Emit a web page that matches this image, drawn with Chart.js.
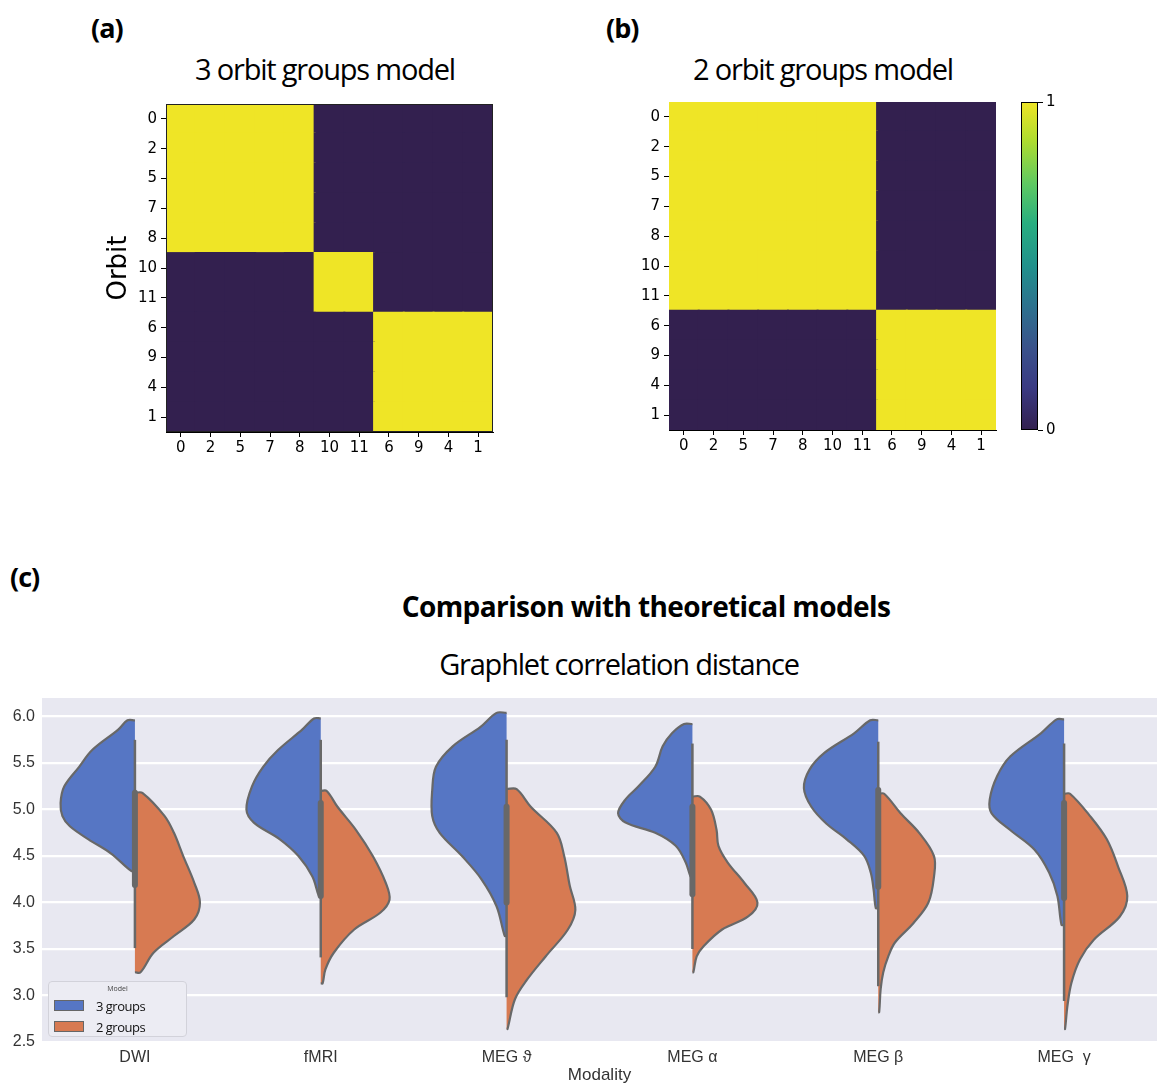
<!DOCTYPE html>
<html>
<head>
<meta charset="utf-8">
<script src="https://cdn.jsdelivr.net/npm/chart.js@4.4.1/dist/chart.umd.min.js"></script>
<style>
  body { margin: 0; width: 1157px; height: 1086px; position: relative; overflow: hidden; background: #fff; font-family: "Open Sans", sans-serif; }
  canvas { position: absolute; }
  .lbl { position: absolute; font-weight: 700; font-size: 27px; line-height: 27px; letter-spacing: -1px; color: #000; }
  .ttl { position: absolute; font-size: 29px; line-height: 29px; letter-spacing: -1.2px; white-space: nowrap; transform: translateX(-50%); color: #000; }
  .ttl.bold { font-weight: 700; font-size: 28px; line-height: 28px; letter-spacing: -0.6px; }
  #legend { position: absolute; left: 48px; top: 981px; width: 139px; height: 56px; box-sizing: border-box;
            background: #ececf3; border: 1.5px solid #d2d2da; border-radius: 4px; }
  #legend .head { font-size: 7px; color: #444; text-align: center; margin-top: 2px; height: 11px; }
  #legend .item { display: flex; align-items: center; height: 21px; font-size: 13px; letter-spacing: -0.5px; color: #111; }
  #legend .sw { width: 28px; height: 9px; border: 1.5px solid #666; margin: 0 12px 0 5px; }
</style>
</head>
<body>
<div class="lbl" style="left:91px;top:14px">(a)</div>
<div class="lbl" style="left:606px;top:14px">(b)</div>
<div class="lbl" style="left:10px;top:563px">(c)</div>
<div class="ttl" style="left:325px;top:54px">3 orbit groups model</div>
<div class="ttl" style="left:823px;top:54px">2 orbit groups model</div>
<div class="ttl bold" style="left:646px;top:592px">Comparison with theoretical models</div>
<div class="ttl" style="left:619px;top:649px">Graphlet correlation distance</div>

<canvas id="heatA" width="410" height="385" style="left:95px;top:92px"></canvas>
<canvas id="heatB" width="410" height="385" style="left:598px;top:90px"></canvas>
<canvas id="cbar" width="70" height="385" style="left:1010px;top:90px"></canvas>
<canvas id="violin" width="1157" height="396" style="left:0;top:690px"></canvas>
<div id="legend"></div>

<script>
// orbit order used on both axes of the model matrices
const orbits = ['0', '2', '5', '7', '8', '10', '11', '6', '9', '4', '1'];

// 3 orbit groups model (rows/cols follow `orbits`)
const model3 = [
  [1, 1, 1, 1, 1, 0, 0, 0, 0, 0, 0],
  [1, 1, 1, 1, 1, 0, 0, 0, 0, 0, 0],
  [1, 1, 1, 1, 1, 0, 0, 0, 0, 0, 0],
  [1, 1, 1, 1, 1, 0, 0, 0, 0, 0, 0],
  [1, 1, 1, 1, 1, 0, 0, 0, 0, 0, 0],
  [0, 0, 0, 0, 0, 1, 1, 0, 0, 0, 0],
  [0, 0, 0, 0, 0, 1, 1, 0, 0, 0, 0],
  [0, 0, 0, 0, 0, 0, 0, 1, 1, 1, 1],
  [0, 0, 0, 0, 0, 0, 0, 1, 1, 1, 1],
  [0, 0, 0, 0, 0, 0, 0, 1, 1, 1, 1],
  [0, 0, 0, 0, 0, 0, 0, 1, 1, 1, 1],
];

// 2 orbit groups model
const model2 = [
  [1, 1, 1, 1, 1, 1, 1, 0, 0, 0, 0],
  [1, 1, 1, 1, 1, 1, 1, 0, 0, 0, 0],
  [1, 1, 1, 1, 1, 1, 1, 0, 0, 0, 0],
  [1, 1, 1, 1, 1, 1, 1, 0, 0, 0, 0],
  [1, 1, 1, 1, 1, 1, 1, 0, 0, 0, 0],
  [1, 1, 1, 1, 1, 1, 1, 0, 0, 0, 0],
  [1, 1, 1, 1, 1, 1, 1, 0, 0, 0, 0],
  [0, 0, 0, 0, 0, 0, 0, 1, 1, 1, 1],
  [0, 0, 0, 0, 0, 0, 0, 1, 1, 1, 1],
  [0, 0, 0, 0, 0, 0, 0, 1, 1, 1, 1],
  [0, 0, 0, 0, 0, 0, 0, 1, 1, 1, 1],
];
const colorbarTicks = [0, 1];

// violin panel
const modalities = ['DWI', 'fMRI', 'MEG ϑ', 'MEG α', 'MEG β', 'MEG  γ'];
const seriesNames = ['3 groups', '2 groups'];
const distTicks = [2.5, 3.0, 3.5, 4.0, 4.5, 5.0, 5.5, 6.0];

// density outline of each half: distance values (top -> bottom) and half widths (share of a category)
const dist3 = [
  [5.96, 5.86, 5.64, 5.46, 5.25, 5.07, 4.93, 4.82, 4.68, 4.53, 4.34],
  [5.98, 5.86, 5.64, 5.46, 5.25, 5.00, 4.86, 4.68, 4.50, 4.28, 4.07],
  [6.04, 5.89, 5.68, 5.46, 5.21, 4.93, 4.75, 4.50, 4.25, 3.96, 3.64],
  [5.92, 5.82, 5.68, 5.46, 5.25, 5.11, 4.96, 4.86, 4.75, 4.61, 4.43, 4.28],
  [5.96, 5.82, 5.61, 5.43, 5.23, 5.03, 4.85, 4.68, 4.50, 4.32, 4.14, 3.94],
  [5.97, 5.82, 5.57, 5.36, 5.11, 4.96, 4.78, 4.57, 4.32, 4.07, 3.76],
];
const width3 = [
  [0.04, 0.09, 0.23, 0.30, 0.38, 0.40, 0.39, 0.35, 0.25, 0.13, 0.02],
  [0.036, 0.10, 0.23, 0.31, 0.37, 0.40, 0.36, 0.22, 0.12, 0.045, 0.01],
  [0.054, 0.14, 0.29, 0.38, 0.40, 0.40, 0.36, 0.24, 0.135, 0.054, 0.01],
  [0.045, 0.11, 0.16, 0.20, 0.29, 0.36, 0.40, 0.36, 0.20, 0.09, 0.036, 0.01],
  [0.043, 0.13, 0.29, 0.37, 0.40, 0.36, 0.28, 0.17, 0.075, 0.04, 0.025, 0.013],
  [0.04, 0.125, 0.29, 0.36, 0.40, 0.39, 0.29, 0.16, 0.08, 0.036, 0.014],
];
const dist2 = [
  [5.18, 4.93, 4.75, 4.50, 4.21, 4.00, 3.82, 3.64, 3.46, 3.25],
  [5.20, 5.03, 4.78, 4.50, 4.21, 4.03, 3.89, 3.71, 3.46, 3.28, 3.13],
  [5.22, 5.03, 4.75, 4.50, 4.18, 3.92, 3.71, 3.42, 3.17, 2.96, 2.64],
  [5.14, 5.00, 4.78, 4.61, 4.43, 4.21, 4.00, 3.85, 3.71, 3.53, 3.42, 3.25],
  [5.17, 4.96, 4.75, 4.50, 4.28, 4.00, 3.78, 3.57, 3.42, 3.25, 3.07, 2.82],
  [5.17, 4.93, 4.68, 4.39, 4.07, 3.85, 3.60, 3.39, 3.14, 2.89, 2.64],
];
const width2 = [
  [0.04, 0.16, 0.21, 0.26, 0.32, 0.35, 0.32, 0.21, 0.10, 0.03],
  [0.032, 0.09, 0.19, 0.28, 0.35, 0.37, 0.32, 0.18, 0.07, 0.025, 0.01],
  [0.054, 0.13, 0.27, 0.31, 0.34, 0.37, 0.33, 0.21, 0.11, 0.045, 0.005],
  [0.04, 0.10, 0.13, 0.14, 0.19, 0.28, 0.35, 0.30, 0.16, 0.06, 0.023, 0.005],
  [0.032, 0.12, 0.22, 0.30, 0.30, 0.27, 0.19, 0.09, 0.054, 0.027, 0.013, 0.005],
  [0.032, 0.14, 0.23, 0.29, 0.34, 0.30, 0.16, 0.086, 0.04, 0.018, 0.005],
];
// inner box (quartiles) and whiskers
const quart1 = [4.19, 4.07, 4.00, 4.09, 4.17, 4.05];
const quart3 = [5.18, 5.07, 5.03, 5.03, 5.21, 5.07];
const whiskLow = [3.51, 3.41, 2.98, 3.50, 3.10, 2.94];
const whiskHigh = [5.75, 5.75, 5.75, 5.71, 5.73, 5.71];

const HIGH = '#efe526';
const LOW = '#33204f';
const BLUE = '#5676c4';
const ORANGE = '#d77a52';
const EDGE = '#686868';

const tickFont = { family: 'DejaVu Sans', size: 15 };

const framePlugin = {
  id: 'frame',
  afterDraw(chart, args, opts) {
    if (!opts.color) return;
    const { ctx, chartArea: a } = chart;
    ctx.save();
    ctx.strokeStyle = opts.color;
    ctx.lineWidth = 1;
    ctx.strokeRect(a.left + 0.5, a.top + 0.5, a.width - 1, a.height - 1);
    ctx.restore();
  }
};

function heatmap(id, matrix, frameColor, showTitle) {
  const n = matrix.length;
  // one stacked dataset per row, bottom row first
  const datasets = matrix.slice().reverse().map((row, k) => ({
    label: orbits[n - 1 - k],
    data: row.map(() => 1),
    backgroundColor: row.map(v => (v ? HIGH : LOW)),
    borderWidth: 0,
    inflateAmount: 1,
    barPercentage: 1,
    categoryPercentage: 1,
  }));
  new Chart(document.getElementById(id), {
    type: 'bar',
    data: { labels: orbits, datasets },
    plugins: [framePlugin],
    options: {
      responsive: false,
      animation: false,
      layout: { padding: { top: 12, right: 12, left: 0, bottom: 0 } },
      plugins: { legend: { display: false }, tooltip: { enabled: false }, frame: { color: frameColor } },
      scales: {
        x: {
          stacked: true,
          grid: { offset: false, drawOnChartArea: false, tickLength: 5, color: '#000' },
          border: { color: '#000' },
          ticks: { font: tickFont, color: '#000', padding: 2, maxRotation: 0, autoSkip: false },
          afterFit(s) { s.height = 45; },
        },
        y: {
          stacked: true,
          min: 0,
          max: n,
          afterBuildTicks(s) { s.ticks = orbits.map((_, k) => ({ value: k + 0.5 })); },
          grid: { drawOnChartArea: false, tickLength: 5, color: '#000' },
          border: { color: '#000' },
          ticks: { font: tickFont, color: '#000', padding: 4, autoSkip: false, callback: (v, i) => orbits[n - 1 - i] },
          title: { display: showTitle, text: 'Orbit', color: '#000', font: { family: 'DejaVu Sans', size: 26 }, padding: { top: 9, bottom: 0 } },
          afterFit(s) { s.width = 71; s.paddingTop = 0; s.paddingBottom = 0; },
        },
      },
    },
  });
}

heatmap('heatA', model3, '#222', true);
heatmap('heatB', model2, null, false);

// colour bar of panel (b)
function viridis(chart) {
  const a = chart.chartArea;
  if (!a) return LOW;
  const g = chart.ctx.createLinearGradient(0, a.bottom, 0, a.top);
  [[0, '#33204f'], [0.13, '#3a3a83'], [0.25, '#3a528b'], [0.38, '#2c728e'], [0.5, '#21918c'],
   [0.63, '#28ae80'], [0.75, '#5ec962'], [0.88, '#addc30'], [1, HIGH]].forEach(([o, c]) => g.addColorStop(o, c));
  return g;
}
new Chart(document.getElementById('cbar'), {
  type: 'bar',
  data: { labels: [''], datasets: [{ data: [colorbarTicks[1]], backgroundColor: c => viridis(c.chart), borderWidth: 0, barPercentage: 1, categoryPercentage: 1 }] },
  plugins: [framePlugin],
  options: {
    responsive: false,
    animation: false,
    layout: { padding: { left: 11, top: 12, bottom: 45, right: 0 } },
    plugins: { legend: { display: false }, tooltip: { enabled: false }, frame: { color: '#000' } },
    scales: {
      x: { display: false },
      y: {
        position: 'right',
        min: colorbarTicks[0],
        max: colorbarTicks[1],
        afterBuildTicks(s) { s.ticks = colorbarTicks.map(v => ({ value: v })); },
        grid: { drawOnChartArea: false, tickLength: 5, color: '#000' },
        border: { display: false },
        ticks: { font: tickFont, color: '#000', padding: 3 },
        afterFit(s) { s.width = 42; s.paddingTop = 0; s.paddingBottom = 0; },
      },
    },
  },
});

// violin panel
function halfOutline(i, ys, ws, side) {
  const pts = [{ x: i, y: ys[0] }];
  ys.forEach((y, k) => pts.push({ x: i + side * ws[k], y }));
  pts.push({ x: i, y: ys[ys.length - 1] });
  return pts;
}

const violinSets = [];
modalities.forEach((m, i) => {
  [[dist3, width3, -1, BLUE, seriesNames[0]], [dist2, width2, 1, ORANGE, seriesNames[1]]].forEach(([d, w, side, col, name]) => {
    violinSets.push({
      label: name,
      data: halfOutline(i, d[i], w[i], side),
      showLine: true,
      fill: 'shape',
      backgroundColor: col,
      borderColor: EDGE,
      borderWidth: 2.2,
      tension: 0.35,
      pointRadius: 0,
      order: 2,
    });
  });
  violinSets.push({
    label: 'whisker',
    data: [{ x: i, y: whiskLow[i] }, { x: i, y: whiskHigh[i] }],
    showLine: true, borderColor: EDGE, borderWidth: 2.5, pointRadius: 0, order: 1,
  });
  violinSets.push({
    label: 'box',
    data: [{ x: i, y: quart1[i] }, { x: i, y: quart3[i] }],
    showLine: true, borderColor: EDGE, borderWidth: 6, borderCapStyle: 'round', pointRadius: 0, order: 0,
  });
});

const bgPlugin = {
  id: 'bg',
  beforeDraw(chart) {
    const { ctx, chartArea: a } = chart;
    ctx.save();
    ctx.fillStyle = '#e8e8f1';
    ctx.fillRect(a.left, a.top, a.width, a.height);
    ctx.restore();
  }
};

new Chart(document.getElementById('violin'), {
  type: 'scatter',
  data: { datasets: violinSets },
  plugins: [bgPlugin],
  options: {
    responsive: false,
    animation: false,
    layout: { padding: { top: 8, right: 0, left: 0, bottom: 0 } },
    plugins: { legend: { display: false }, tooltip: { enabled: false } },
    scales: {
      x: {
        type: 'linear',
        min: -0.5,
        max: modalities.length - 0.5,
        afterBuildTicks(s) { s.ticks = modalities.map((_, k) => ({ value: k })); },
        grid: { display: false, drawTicks: false },
        border: { display: false },
        ticks: { font: { family: 'Liberation Sans', size: 16 }, color: '#333', padding: 6, callback: (v, i) => modalities[i] },
        title: { display: true, text: 'Modality', color: '#333', font: { family: 'Liberation Sans', size: 17 }, padding: { top: 0, bottom: 0 } },
        afterFit(s) { s.height = 44; s.paddingLeft = 0; s.paddingRight = 0; },
      },
      y: {
        min: distTicks[0],
        max: 6.2,
        afterBuildTicks(s) { s.ticks = distTicks.map(v => ({ value: v })); },
        ticks: { font: { family: 'Liberation Sans', size: 16 }, color: '#333', padding: 7, callback: v => v.toFixed(1) },
        grid: { color: '#ffffff', lineWidth: 2.2, drawTicks: false },
        border: { display: false },
        afterFit(s) { s.width = 42; s.paddingTop = 0; s.paddingBottom = 0; },
      },
    },
  },
});

// legend inside the plot
const legend = document.getElementById('legend');
legend.innerHTML = '<div class="head">Model</div>' + seriesNames.map((s, k) =>
  '<div class="item"><span class="sw" style="background:' + [BLUE, ORANGE][k] + '"></span>' + s + '</div>').join('');
</script>
</body>
</html>
